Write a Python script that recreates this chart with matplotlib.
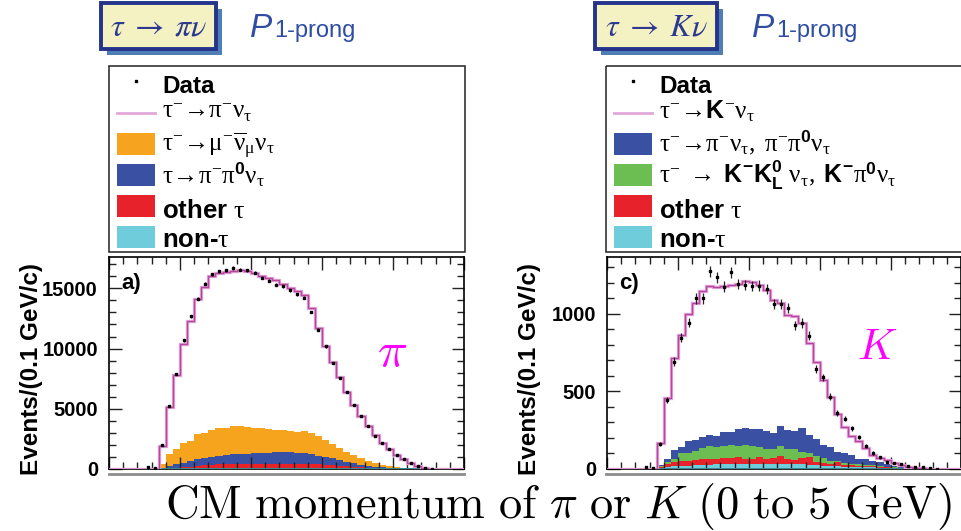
import numpy as np
import matplotlib
matplotlib.use("Agg")
import matplotlib.pyplot as plt
from matplotlib.patches import Rectangle
from matplotlib.ticker import MultipleLocator

plt.rcParams.update({
    "font.family": ["Liberation Sans", "DejaVu Sans"],
    "mathtext.fontset": "custom",
    "mathtext.rm": "Liberation Serif",
    "mathtext.it": "Liberation Serif:italic",
    "mathtext.bf": "Liberation Sans:bold",
    "mathtext.sf": "Liberation Sans",
})

W, H = 962, 531
edges = np.linspace(0.0, 5.0, 51)          # CM momentum, 0.1 GeV bins
centers = 0.5 * (edges[1:] + edges[:-1])

# ---- tau -> pi nu selection (events / 0.1 GeV)
pi_data = [0, 0, 0, 0, 0, 150, 80,
           1970, 5190, 7890, 10670, 12690, 14140, 15390, 16170, 16420, 16500,
           16690, 16550, 16500, 16310, 15890, 15610, 15280, 15190, 14830, 14500,
           14220, 13030, 11580, 10170, 8800, 7550, 6360, 5330, 4390, 3580,
           2750, 2190, 1640, 1170, 805, 470, 250, 85, 30, 0, 0, 0, 0]
pi_signal = [0] * 7 + [
    1460, 3870, 6110, 8260, 9970, 11210, 12070, 12750, 12860, 12910,
    12870, 12970, 12950, 12860, 12660, 12540, 12400, 12130, 11870, 11640,
    11330, 10350, 8950, 7800, 6750, 5850, 4980, 4150, 3520, 2950,
    2380, 1850, 1420, 1000, 710, 435, 230, 72, 20] + [0] * 4
pi_mununu = [0] * 7 + [
    380, 1030, 1300, 1610, 1660, 2090, 2090, 2220, 2280, 2270,
    2360, 2280, 2220, 2140, 2060, 1960, 1880, 1840, 1810, 1760,
    1810, 1780, 1630, 1380, 1200, 990, 820, 680, 520, 380,
    280, 220, 145, 95, 50, 25, 8, 2] + [0] * 5
pi_pipi0 = [0] * 7 + [
    20, 170, 280, 390, 470, 550, 640, 690, 730, 770,
    800, 830, 860, 880, 910, 930, 950, 970, 960, 950,
    910, 830, 740, 660, 580, 490, 370, 280, 210, 150,
    100, 70, 45, 25, 20, 8, 4, 2] + [0] * 5
pi_other = [0] * 7 + [
    10, 40, 65, 90, 150, 195, 245, 280, 320, 340,
    360, 360, 360, 360, 360, 360, 360, 350, 350, 340,
    345, 335, 330, 310, 275, 225, 190, 155, 120, 95,
    70, 42, 25, 18, 10, 4, 3, 1] + [0] * 5
pi_nontau = [0] * 7 + [
    30, 40, 45, 50, 50, 55, 55, 60, 60, 60,
    60, 60, 60, 60, 60, 60, 60, 60, 60, 60,
    55, 55, 50, 50, 45, 45, 40, 35, 30, 25,
    20, 18, 15, 12, 10, 8, 5, 3] + [0] * 5

# ---- tau -> K nu selection
k_data = [0, 0, 0, 0, 0, 10, 6,
          160, 443, 692, 844, 942, 1098, 1098, 1274, 1235, 1174,
          1267, 1191, 1185, 1178, 1181, 1160, 1065, 1065, 1037, 925,
          940, 859, 645, 590, 466, 360, 324, 263, 205, 147,
          103, 75, 42, 36, 30, 22, 15, 10, 5, 3, 0, 0, 0]
k_signal = [0] * 7 + [
    141, 391, 592, 718, 818, 881, 935, 962, 955, 935,
    944, 934, 949, 949, 926, 910, 851, 790, 742, 738,
    674, 592, 499, 419, 319, 245, 167, 126, 115, 73,
    43, 27, 25, 18, 14, 10, 6, 4, 2] + [0] * 4
k_pipi = [0] * 7 + [
    8, 18, 55, 43, 72, 70, 73, 74, 75, 96,
    87, 108, 111, 111, 113, 115, 106, 130, 124, 115,
    156, 117, 109, 80, 93, 57, 67, 54, 35, 36,
    26, 23, 15, 8, 2, 0, 0, 0] + [0] * 5
k_kk = [0] * 7 + [
    3, 15, 19, 50, 56, 58, 72, 78, 75, 71,
    82, 74, 87, 83, 65, 68, 56, 66, 66, 73,
    37, 22, 39, 32, 15, 9, 14, 8, 10, 6,
    6, 7, 5, 4, 2, 1, 0, 0] + [0] * 5
k_other = [0] * 7 + [
    7, 18, 30, 30, 28, 34, 38, 39, 35, 39,
    40, 46, 32, 32, 46, 32, 39, 47, 32, 25,
    42, 50, 18, 18, 15, 23, 10, 10, 8, 12,
    8, 5, 4, 3, 2, 1, 1, 0] + [0] * 5
k_nontau = [0] * 7 + [
    8, 12, 18, 20, 22, 25, 25, 28, 30, 35,
    32, 30, 33, 30, 32, 30, 33, 35, 30, 32,
    30, 28, 25, 22, 20, 20, 15, 15, 12, 10,
    10, 8, 6, 5, 4, 3, 2, 1] + [0] * 5

C_ORANGE, C_BLUE, C_RED = "#f6a41e", "#3a50a2", "#e8222a"
C_CYAN, C_GREEN = "#6fccdb", "#6cbd52"
C_PINK_LT, C_PINK = "#e2a8da", "#b8469f"

fig = plt.figure(figsize=(W / 100, H / 100), dpi=100)


def px_axes(x0, y0, x1, y1):
    return fig.add_axes([x0 / W, 1 - y1 / H, (x1 - x0) / W, (y1 - y0) / H])


def draw_panel(ax, backgrounds, signal, data, ymax, major, minor, tag, big):
    base = np.zeros(len(centers))
    for vals, col in backgrounds:
        top = base + np.asarray(vals, float)
        ax.stairs(top, edges, baseline=base, fill=True, color=col, lw=0)
        base = top
    total = base + np.asarray(signal, float)
    ax.axhline(0, color="#3a8b95", lw=1.4, zorder=3)
    ax.stairs(total, edges, baseline=0, color=C_PINK_LT, lw=2.4, zorder=4)
    ax.stairs(total, edges, baseline=0, color=C_PINK, lw=1.0, zorder=4)

    d = np.asarray(data, float)
    m = d > 0
    ax.errorbar(centers[m], d[m], yerr=np.sqrt(d[m]), fmt="s", ms=1.8,
                mfc="k", mec="k", ecolor="#222222", elinewidth=0.9,
                capsize=0, zorder=5)

    ax.set_xlim(0, 5)
    ax.set_ylim(0, ymax)
    ax.xaxis.set_major_locator(MultipleLocator(1))
    ax.xaxis.set_minor_locator(MultipleLocator(0.2))
    ax.yaxis.set_major_locator(MultipleLocator(major))
    ax.yaxis.set_minor_locator(MultipleLocator(minor))
    ax.tick_params(which="both", direction="in", top=True, right=True,
                   labelbottom=False, width=1.0, color="#222222")
    ax.tick_params(which="major", length=9)
    ax.tick_params(which="minor", length=5)
    ax.tick_params(axis="y", pad=8)
    plt.setp(ax.get_yticklabels(), fontsize=14.5, fontweight="bold")
    for s in ax.spines.values():
        s.set_linewidth(1.2)
    ax.set_ylabel("Events/(0.1 GeV/c)", fontsize=17.5, fontweight="bold")
    ax.yaxis.set_label_coords(-0.187, 0.474)
    ax.text(0.034, 0.877, tag, transform=ax.transAxes, fontsize=16,
            fontweight="bold", va="center")
    ax.text(big[0], big[1], big[2], transform=ax.transAxes, fontsize=big[3],
            color="#ff00ff", ha="center", va="center", math_fontfamily="cm")


ax_pi = px_axes(109, 257, 464, 469)
draw_panel(ax_pi,
           [(pi_nontau, C_CYAN), (pi_other, C_RED), (pi_pipi0, C_BLUE),
            (pi_mununu, C_ORANGE)],
           pi_signal, pi_data, 17600, 5000, 1000, "a)",
           (0.797, 0.545, r"$\pi$", 36))

ax_k = px_axes(607, 257, 961.5, 469)
draw_panel(ax_k,
           [(k_nontau, C_CYAN), (k_other, C_RED), (k_kk, C_GREEN),
            (k_pipi, C_BLUE)],
           k_signal, k_data, 1365, 500, 100, "c)",
           (0.763, 0.57, r"$K$", 31))

# ---- header boxes, legends and shared axis caption (pixel coordinates)
deco = fig.add_axes([0, 0, 1, 1], zorder=-1)
deco.set_xlim(0, W)
deco.set_ylim(H, 0)
deco.axis("off")

headers = [(101, 216, r"$\tau\;\rightarrow\;\pi\nu$", 250),
           (595, 717, r"$\tau\;\rightarrow\;K\nu$", 752)]
for x0, x1, label, px in headers:
    deco.add_patch(Rectangle((x0 + 6, 9), x1 - x0, 46,
                             facecolor="#4f7db5", edgecolor="none"))
    deco.add_patch(Rectangle((x0, 3), x1 - x0, 46, facecolor="#f4f2c2",
                             edgecolor="#24348a", lw=2.8))
    deco.text((x0 + x1) / 2, 27, label, ha="center", va="center",
              fontsize=23, color="#2b3990", math_fontfamily="stix")
    deco.text(px, 37, "P", style="italic", fontsize=24, color="#2e4da3",
              va="baseline")
    deco.text(px + 24, 37, "1-prong", fontsize=17, color="#2e4da3",
              va="baseline")

pi_rows = [
    r"$\mathrm{\tau^{-}\!\rightarrow\!\pi^{-}\nu_{\tau}}$",
    r"$\mathrm{\tau^{-}\!\rightarrow\!\mu^{-}\overline{\nu}_{\mu}\nu_{\tau}}$",
    r"$\mathrm{\tau\!\rightarrow\!\pi^{-}\pi^{\mathbf{0}}\nu_{\tau}}$",
]
k_rows = [
    r"$\mathrm{\tau^{-}\!\rightarrow\!}\mathbf{K}^{-}\mathrm{\nu_{\tau}}$",
    r"$\mathrm{\tau^{-}\!\rightarrow\!\pi^{-}\nu_{\tau},\ \pi^{-}\pi^{\mathbf{0}}\nu_{\tau}}$",
    r"$\mathrm{\tau^{-}\ \rightarrow\ }\mathbf{K^{-}K^{0}_{L}}\ \mathrm{\nu_{\tau}},\ "
    r"\mathbf{K^{-}}\mathrm{\pi^{\mathbf{0}}\nu_{\tau}}$",
]


def draw_legend(x0, rows, fills):
    deco.add_patch(Rectangle((x0, 66), 356, 186, fill=False,
                             edgecolor="#222222", lw=1.1))
    deco.plot([x0 + 27], [81], "s", ms=1.5, color="k")
    deco.text(x0 + 53, 93, "Data", fontsize=17.5, fontweight="bold",
              va="baseline")
    deco.plot([x0 + 8, x0 + 46], [112.7, 112.7], color=C_PINK_LT, lw=2)
    deco.text(x0 + 53, 118, rows[0], fontsize=18, va="baseline")
    labels = rows[1:] + [r"other $\mathrm{\tau}$", r"non-$\mathrm{\tau}$"]
    for i, (col, lab, base) in enumerate(zip(fills, labels,
                                             [151, 183.5, 218, 247])):
        top = 133 + 31 * i
        deco.add_patch(Rectangle((x0 + 8, top), 38, 22, facecolor=col,
                                 edgecolor="none"))
        size = 18 if i < 2 else 18.5
        deco.text(x0 + 53, base, lab, fontsize=size, va="baseline",
                  fontweight="bold")


draw_legend(109, pi_rows, [C_ORANGE, C_BLUE, C_RED, C_CYAN])
draw_legend(606.5, k_rows, [C_BLUE, C_GREEN, C_RED, C_CYAN])

deco.plot([109, 464], [474, 474], color="#8c8c8c", lw=2)
deco.plot([606, 962], [474, 474], color="#8c8c8c", lw=2)

deco.text(559, 507,
          r"$\mathrm{CM\ momentum\ of\ }\pi\mathrm{\ or\ }K"
          r"\mathrm{\ (0\ to\ 5\ GeV)}$",
          ha="center", va="center", fontsize=33.5, math_fontfamily="cm")

fig.savefig("out.png", dpi=100)
